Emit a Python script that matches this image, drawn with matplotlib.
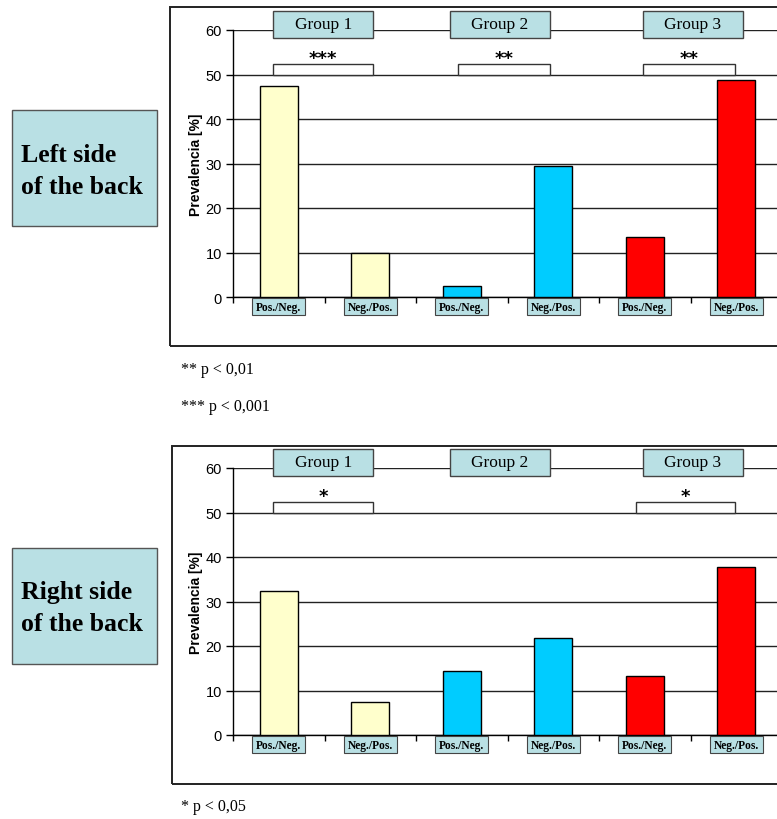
import numpy as np
import matplotlib
matplotlib.use("Agg")
import matplotlib.pyplot as plt
from matplotlib.patches import Rectangle

# ---- data -------------------------------------------------------------
categories = ["Pos./Neg.", "Neg./Pos.", "Pos./Neg.", "Neg./Pos.", "Pos./Neg.", "Neg./Pos."]
groups = ["Group 1", "Group 2", "Group 3"]
left_values = [47.5, 10.0, 2.5, 29.4, 13.5, 48.8]
right_values = [32.4, 7.5, 14.4, 21.8, 13.3, 37.8]
bar_colors = ["#FFFFCC", "#FFFFCC", "#00CCFF", "#00CCFF", "#FF0000", "#FF0000"]
left_sig = ["***", "**", "**"]
right_sig = ["*", "", "*"]
yticks = [0, 10, 20, 30, 40, 50, 60]

# ---- style ------------------------------------------------------------
BOX_FILL = "#B9E0E4"
SERIF = ["Liberation Serif", "DejaVu Serif"]
SANS = ["Liberation Sans", "DejaVu Sans"]

W, H = 777, 820
fig = plt.figure(figsize=(W / 100, H / 100), dpi=100)
fig.patch.set_facecolor("white")


def fx(px):
    return px / W


def fy(py):
    return 1 - py / H


# bracket extents (data x) and group header extents per panel
left_brackets = [(-0.06, 1.03), (1.96, 2.96), (3.98, 4.99)]
right_brackets = [(-0.06, 1.03), None, (3.90, 4.99)]
group_boxes = [(-0.06, 1.03), (1.87, 2.96), (3.98, 5.07)]


def panel(frame_top, frame_bottom, frame_left, y0_px, values, sig, brackets,
          side_text, box_top, box_bottom):
    # outer frame
    fig.patches.append(Rectangle((fx(frame_left), fy(frame_bottom)),
                                 fx(W + 20 - frame_left), fy(frame_top) - fy(frame_bottom),
                                 transform=fig.transFigure, fill=False,
                                 edgecolor="#222222", lw=1.4))
    # side label box
    fig.patches.append(Rectangle((fx(12), fy(box_bottom)), fx(145),
                                 fy(box_top) - fy(box_bottom),
                                 transform=fig.transFigure, facecolor=BOX_FILL,
                                 edgecolor="#555555", lw=1.0))
    fig.text(fx(21), fy((box_top + box_bottom) / 2 + 2), side_text, ha="left",
             va="center", fontsize=18.5, fontweight="bold", family=SERIF,
             linespacing=1.5)

    ax_left = 233
    ax_right = 782
    y60_px = y0_px - 267
    ax = fig.add_axes([fx(ax_left), fy(y0_px), fx(ax_right - ax_left),
                       fy(y60_px) - fy(y0_px)])
    x = np.arange(len(categories))
    ax.bar(x, values, width=0.42, color=bar_colors, edgecolor="black",
           linewidth=1.0, zorder=3)
    ax.set_xlim(-0.5, 5.5)
    ax.set_ylim(0, 60)
    ax.set_yticks(yticks)
    ax.set_yticklabels([str(t) for t in yticks], family=SANS, fontsize=10.5)
    ax.set_xticks(np.arange(-0.5, 6, 1))
    ax.set_xticklabels([])
    ax.tick_params(axis="x", direction="out", length=4, width=1)
    ax.tick_params(axis="y", direction="out", length=5, width=1, pad=3)
    for s in ["top", "right"]:
        ax.spines[s].set_visible(False)
    ax.spines["left"].set_linewidth(1.0)
    ax.spines["bottom"].set_linewidth(1.0)
    ax.yaxis.grid(True, color="#222222", lw=1.0, zorder=0)
    ax.set_axisbelow(True)
    ax.set_ylabel("Prevalencia [%]", family=SANS, fontsize=10,
                  fontweight="bold", labelpad=2)

    # category labels under the axis
    for xi, lab in zip(x, categories):
        ax.add_patch(Rectangle((xi - 0.29, -4.1), 0.58, 3.8, facecolor=BOX_FILL,
                               edgecolor="#444444", lw=0.8, clip_on=False,
                               zorder=4))
        ax.text(xi, -2.2, lab, ha="center", va="center", fontsize=8.3,
                fontweight="bold", family=SERIF, clip_on=False, zorder=5)

    # group headers across the top gridline
    for (a, b), g in zip(group_boxes, groups):
        ax.add_patch(Rectangle((a, 58.2), b - a, 6.1, facecolor=BOX_FILL,
                               edgecolor="#444444", lw=1.0, clip_on=False,
                               zorder=4))
        ax.text((a + b) / 2, 61.25, g, ha="center", va="center", fontsize=12.5,
                family=SERIF, clip_on=False, zorder=5)

    # significance brackets
    for br, s in zip(brackets, sig):
        if br is None or not s:
            continue
        a, b = br
        ax.add_patch(Rectangle((a, 50), b - a, 2.4, facecolor="white",
                               edgecolor="#333333", lw=1.0, zorder=4))
        ax.text((a + b) / 2, 53.6, s, ha="center", va="center", fontsize=13,
                fontweight="bold", family=["DejaVu Sans"], zorder=5)
    return ax


panel(8, 347, 170, 298, left_values, left_sig, left_brackets,
      "Left side\nof the back", 111, 227)
panel(447, 785, 172, 736, right_values, right_sig, right_brackets,
      "Right side\nof the back", 549, 665)

# footnotes
fig.text(fx(181), fy(370), "** p < 0,01", fontsize=11.5, family=SERIF,
         va="center", ha="left")
fig.text(fx(181), fy(407), "*** p < 0,001", fontsize=11.5, family=SERIF,
         va="center", ha="left")
fig.text(fx(181), fy(807), "* p < 0,05", fontsize=11.5, family=SERIF,
         va="center", ha="left")

fig.savefig("out.png", dpi=100)
